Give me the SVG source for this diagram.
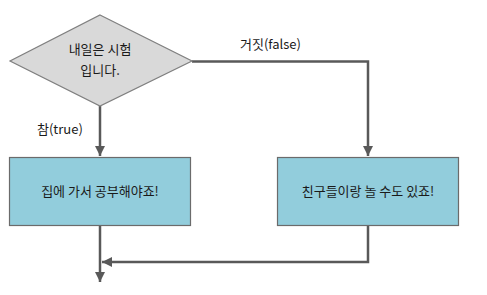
<svg xmlns="http://www.w3.org/2000/svg" width="487" height="295" viewBox="0 0 487 295">
<style>
text{font-family:"Malgun Gothic","Noto Sans CJK KR",sans-serif;font-size:13px;fill:#1a1a1a}
.c{text-anchor:middle}
.box{fill:#92cddc;stroke:#6b6b6b;stroke-width:1.2}
.dia{fill:#d9d9d9;stroke:#7f7f7f;stroke-width:1.2}
.ln{fill:none;stroke:#595959;stroke-width:2.5}
</style>
<defs>
<marker id="ah" viewBox="0 0 10 10" refX="10" refY="5" markerWidth="4" markerHeight="4" orient="auto" markerUnits="strokeWidth">
<path d="M0,0 L10,5 L0,10 z" fill="#595959"/>
</marker>
</defs>
<rect width="487" height="295" fill="#fff"/>
<g id="connectors">
<path class="ln" d="M100,106 V156" marker-end="url(#ah)"/>
<path class="ln" d="M192,61.5 H368 V156" marker-end="url(#ah)"/>
<path class="ln" d="M100,226 V282" marker-end="url(#ah)"/>
<path class="ln" d="M368,226 V262 H102" marker-end="url(#ah)"/>
<text x="240" y="49">거짓(false)</text>
<text x="37" y="134">참(true)</text>
</g>
<g id="decision">
<polygon class="dia" points="100,15 192,61 100,106 10,61"/>
<text class="c" x="100" y="54">내일은 시험</text>
<text class="c" x="100" y="75">입니다.</text>
</g>
<g id="study">
<rect class="box" x="9.5" y="157.5" width="181" height="68"/>
<text class="c" x="100" y="196">집에 가서 공부해야죠!</text>
</g>
<g id="play">
<rect class="box" x="277.5" y="157.5" width="181" height="68"/>
<text class="c" x="368" y="196">친구들이랑 놀 수도 있죠!</text>
</g>
</svg>
